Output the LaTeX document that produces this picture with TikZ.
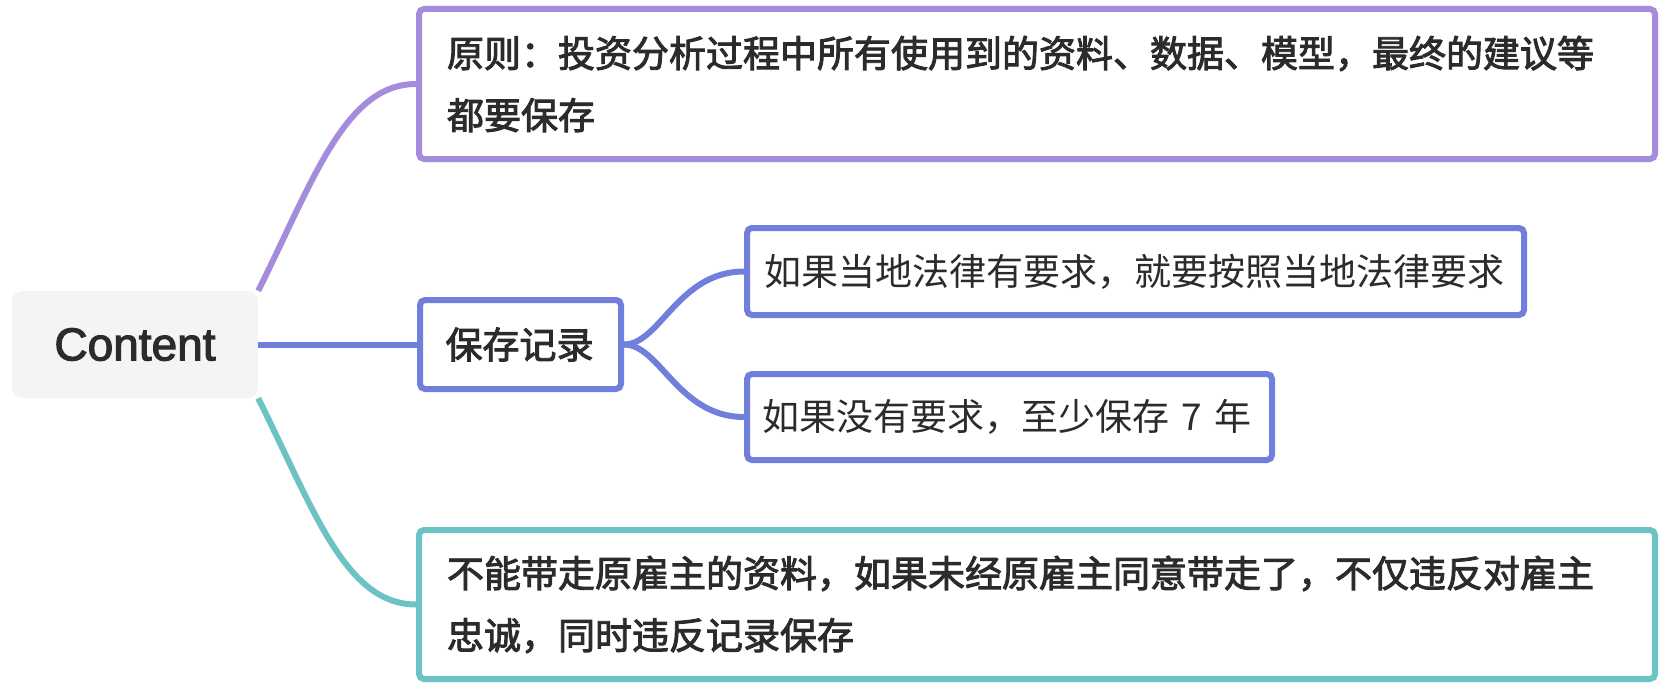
\documentclass[tikz,border=0pt]{standalone}
\usepackage{fontspec}
\setmainfont{Liberation Sans}
\newfontfamily\rootfont[FakeBold=2.5]{Liberation Sans}
\newfontfamily\cjk{Noto Sans CJK SC}
\newfontfamily\cjkb[FakeBold=2.5]{Noto Sans CJK SC}
\definecolor{cpurple}{HTML}{A58BDC}
\definecolor{cblue}{HTML}{707FDB}
\definecolor{cteal}{HTML}{6DC3C3}
\definecolor{ctext}{HTML}{2B2B2B}
\definecolor{croot}{HTML}{F4F4F4}
\tikzset{
  rootbox/.style={fill=croot, rounded corners=10pt, minimum width=246pt, minimum height=107pt,
    font=\rootfont\fontsize{46}{50}\selectfont, text=ctext, inner sep=0pt},
  topicbox/.style={draw=#1, line width=6pt, rounded corners=5pt, fill=white, align=left,
    text=ctext, font=\cjkb\fontsize{37}{62}\selectfont, inner ysep=0pt},
  subbox/.style={draw=#1, line width=6pt, rounded corners=5pt, fill=white, align=left,
    text=ctext, font=\cjk\fontsize{37}{62}\selectfont, inner ysep=0pt},
  link/.style={draw=#1, line width=6pt}
}
\begin{document}
\begin{tikzpicture}[x=1pt, y=-1pt]
\useasboundingbox (0,0) rectangle (1670,690);
\node[rootbox] (root) at (135,344.5) {Content};
\node[topicbox=cpurple, text width=1180pt, inner xsep=28pt, minimum height=150pt] (b1) at (1037,84)
  {原则：投资分析过程中所有使用到的资料、数据、模型，最终的建议等\\都要保存};
\node[topicbox=cblue, text width=150pt, inner xsep=25.5pt, minimum height=89pt] (b2) at (520.5,344.5)
  {保存记录};
\node[subbox=cblue, text width=742pt, inner xsep=17.5pt, minimum height=87pt] (b3) at (1135.5,271.5)
  {如果当地法律有要求，就要按照当地法律要求};
\node[subbox=cblue, text width=495pt, inner xsep=15pt, minimum height=86pt] (b4) at (1009.5,417)
  {如果没有要求，至少保存~7~年};
\node[topicbox=cteal, text width=1180pt, inner xsep=28pt, minimum height=149pt] (b5) at (1037,604.5)
  {不能带走原雇主的资料，如果未经原雇主同意带走了，不仅违反对雇主\\忠诚，同时违反记录保存};
\draw[link=cpurple] (root.north east) .. controls +(55,-110) and +(-71,0) .. (b1.west);
\draw[link=cblue] (root.east) -- (b2.west);
\draw[link=cteal] (root.south east) .. controls +(55,110) and +(-71,0) .. (b5.west);
\draw[link=cblue] (b2.east) .. controls +(36,0) and +(-66,0) .. (b3.west);
\draw[link=cblue] (b2.east) .. controls +(36,0) and +(-66,0) .. (b4.west);
\end{tikzpicture}
\end{document}
